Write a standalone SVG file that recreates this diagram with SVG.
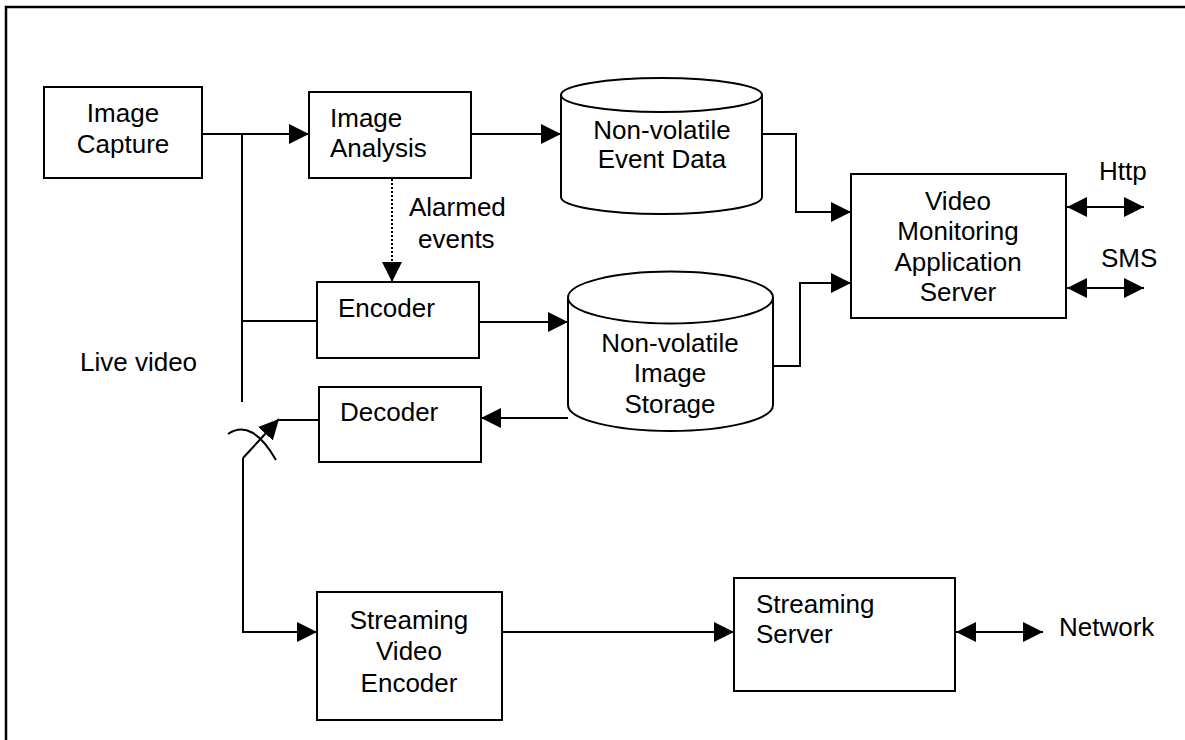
<svg xmlns="http://www.w3.org/2000/svg" width="1185" height="740" viewBox="0 0 1185 740">
<defs>
<marker id="ah" markerUnits="userSpaceOnUse" markerWidth="20" markerHeight="20" refX="20" refY="10" orient="auto-start-reverse">
<path d="M0,0 L20,10 L0,20 z" fill="#000"/>
</marker>
<style>
.box{fill:#fff;stroke:#000;stroke-width:2}
.ln{fill:none;stroke:#000;stroke-width:2}
.ar{fill:none;stroke:#000;stroke-width:2;marker-end:url(#ah)}
.da{fill:none;stroke:#000;stroke-width:2;marker-start:url(#ah);marker-end:url(#ah)}
text{font-family:"Liberation Sans",Arial,sans-serif;font-size:26px;fill:#000}
.c{text-anchor:middle}
</style>
</defs>
<rect x="0" y="0" width="1185" height="740" fill="#fff"/>
<rect x="6" y="7" width="1300" height="900" fill="none" stroke="#000" stroke-width="2.5"/>

<g id="connectors">
<line class="ln" x1="202" y1="134" x2="242" y2="134"/>
<line class="ar" x1="242" y1="134" x2="309" y2="134"/>
<line class="ln" x1="242" y1="134" x2="242" y2="402"/>
<line class="ln" x1="242" y1="321" x2="317" y2="321"/>
<line class="ar" x1="471" y1="134" x2="561" y2="134"/>
<line class="ar" x1="392" y1="179" x2="392" y2="282" stroke-dasharray="2,2"/>
<line class="ar" x1="479" y1="322" x2="568" y2="322"/>
<line class="ar" x1="568" y1="418" x2="481" y2="418"/>
<polyline class="ar" points="762,134 796,134 796,212 851,212"/>
<polyline class="ar" points="773,366 800,366 800,283 851,283"/>
<line class="da" x1="1067" y1="207" x2="1144" y2="207"/>
<line class="da" x1="1067" y1="288" x2="1144" y2="288"/>
<line class="ln" x1="319" y1="420" x2="278" y2="420"/>
<line class="ar" x1="243" y1="458" x2="279" y2="419"/>
<path class="ln" d="M228,434 Q252,418 276,460"/>
<polyline class="ar" points="243,458 243,632 317,632"/>
<line class="ar" x1="502" y1="632" x2="734" y2="632"/>
<line class="da" x1="956" y1="632" x2="1043" y2="632"/>
</g>

<g id="image-capture">
<rect class="box" x="44" y="87" width="158" height="91"/>
<text class="c" x="123" y="122">Image</text>
<text class="c" x="123" y="153">Capture</text>
</g>

<g id="image-analysis">
<rect class="box" x="309" y="92" width="162" height="86"/>
<text x="330" y="127">Image</text>
<text x="330" y="157">Analysis</text>
</g>

<g id="alarmed-label">
<text x="409" y="216">Alarmed</text>
<text x="418" y="248">events</text>
</g>

<g id="event-data">
<path class="box" d="M561,95 L561,197 A100.5,17 0 0 0 762,197 L762,95"/>
<ellipse class="box" cx="661.5" cy="95" rx="100.5" ry="17"/>
<text class="c" x="662" y="139">Non-volatile</text>
<text class="c" x="662" y="168">Event Data</text>
</g>

<g id="encoder">
<rect class="box" x="317" y="282" width="162" height="76"/>
<text x="338" y="317">Encoder</text>
</g>

<g id="image-storage">
<path class="box" d="M568,297 L568,405 A102.5,26 0 0 0 773,405 L773,297"/>
<ellipse class="box" cx="670.5" cy="297.5" rx="102.5" ry="26"/>
<text class="c" x="670" y="352">Non-volatile</text>
<text class="c" x="670" y="382">Image</text>
<text class="c" x="670" y="413">Storage</text>
</g>

<g id="decoder">
<rect class="box" x="319" y="387" width="162" height="75"/>
<text x="340" y="421">Decoder</text>
</g>

<g id="live-video">
<text x="80" y="371">Live video</text>
</g>

<g id="vmas">
<rect class="box" x="851" y="174" width="215" height="144"/>
<text class="c" x="958" y="210">Video</text>
<text class="c" x="958" y="240">Monitoring</text>
<text class="c" x="958" y="271">Application</text>
<text class="c" x="958" y="301">Server</text>
</g>

<g id="http-label"><text x="1099" y="180">Http</text></g>
<g id="sms-label"><text x="1101" y="267">SMS</text></g>

<g id="streaming-video-encoder">
<rect class="box" x="317" y="592" width="185" height="128"/>
<text class="c" x="409" y="629">Streaming</text>
<text class="c" x="409" y="660">Video</text>
<text class="c" x="409" y="692">Encoder</text>
</g>

<g id="streaming-server">
<rect class="box" x="734" y="578" width="221" height="113"/>
<text x="756" y="613">Streaming</text>
<text x="756" y="643">Server</text>
</g>

<g id="network-label"><text x="1059" y="636">Network</text></g>
</svg>
